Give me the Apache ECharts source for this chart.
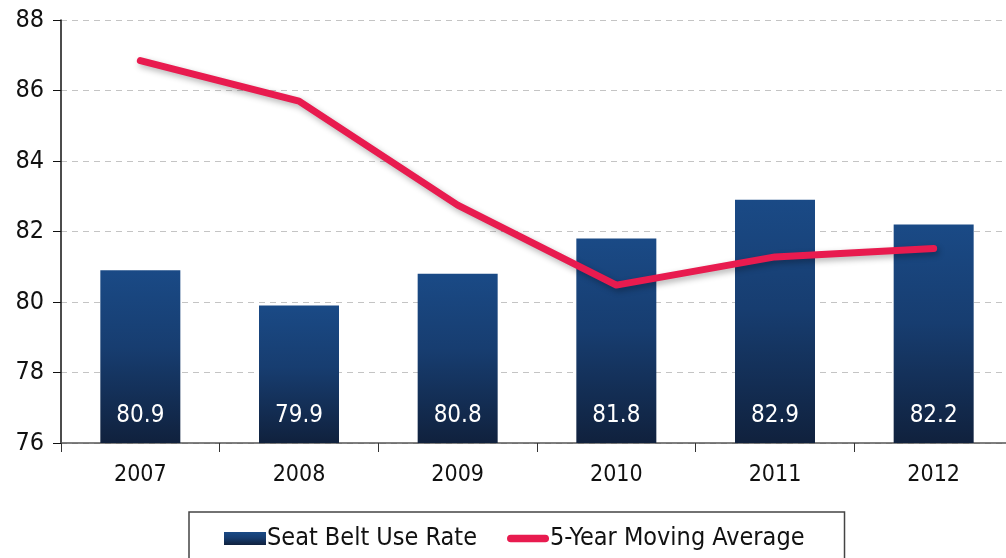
<!DOCTYPE html>
<html>
<head>
<meta charset="utf-8">
<script src="https://cdn.jsdelivr.net/npm/echarts@6/dist/echarts.min.js"></script>
<style>
  html, body { margin: 0; padding: 0; background: #fff; }
  #chart { width: 1006px; height: 558px; }
</style>
</head>
<body>
<div id="chart"></div>
<script>
// 数据
const years = ['2007', '2008', '2009', '2010', '2011', '2012']
const useRate = [80.9, 79.9, 80.8, 81.8, 82.9, 82.2]
const movingAvg = [86.85, 85.7, 82.75, 80.48, 81.28, 81.52]

const font = "'Liberation Sans Narrow', 'DejaVu Sans Condensed', sans-serif"

const chart = echarts.init(document.getElementById('chart'))

const option = {
  animation: false,
  textStyle: { fontFamily: font },
  // 右侧网格超出画布, 使年份间距与原图一致
  grid: { left: 61, right: -7, top: 20, bottom: 115, outerBoundsMode: 'none' },
  legend: {
    top: 512,
    left: 189,
    padding: [14, 40, 14, 35],
    borderColor: '#444',
    borderWidth: 1.5,
    itemWidth: 42,
    itemHeight: 13,
    itemGap: 30,
    textStyle: { fontFamily: font, fontSize: 25, color: '#111', padding: [0, 0, 0, -4] },
    data: [
      { name: 'Seat Belt Use Rate', icon: 'rect' },
      { name: '5-Year Moving Average', icon: 'path://M4,0 H40 A4,4 0 0 1 40,8 H4 A4,4 0 0 1 4,0 Z' }
    ]
  },
  xAxis: {
    type: 'category',
    data: years,
    axisLine: { lineStyle: { color: '#555', width: 1.5 } },
    axisTick: { show: true, length: 9, lineStyle: { color: '#333' } },
    axisLabel: { color: '#111', fontSize: 23, margin: 21, fontFamily: font }
  },
  yAxis: {
    type: 'value',
    min: 76,
    max: 88,
    interval: 2,
    axisLine: { show: true, lineStyle: { color: '#111', width: 1.5 } },
    axisTick: { show: true, length: 8, lineStyle: { color: '#111' } },
    axisLabel: { color: '#111', fontSize: 25, margin: 17, fontFamily: font },
    splitLine: { lineStyle: { color: '#c4c4c4', type: [6, 5] } }
  },
  series: [
    {
      name: 'Seat Belt Use Rate',
      type: 'bar',
      data: useRate,
      barWidth: 80,
      itemStyle: {
        color: new echarts.graphic.LinearGradient(0, 0, 0, 1, [
          { offset: 0, color: '#1a4a86' },
          { offset: 0.45, color: '#173d70' },
          { offset: 1, color: '#10213d' }
        ])
      },
      label: {
        show: true,
        position: 'insideBottom',
        distance: 15,
        color: '#fff',
        fontSize: 24,
        fontFamily: font,
        formatter: p => p.value.toFixed(1)
      }
    },
    {
      name: '5-Year Moving Average',
      type: 'line',
      data: movingAvg,
      symbol: 'none',
      z: 5,
      color: '#e81b4f',
      lineStyle: {
        color: '#e81b4f',
        width: 7,
        cap: 'round',
        join: 'round',
        shadowColor: 'rgba(0,0,0,0.3)',
        shadowBlur: 6,
        shadowOffsetX: 2,
        shadowOffsetY: 3
      }
    }
  ]
}

chart.setOption(option)
</script>
</body>
</html>
